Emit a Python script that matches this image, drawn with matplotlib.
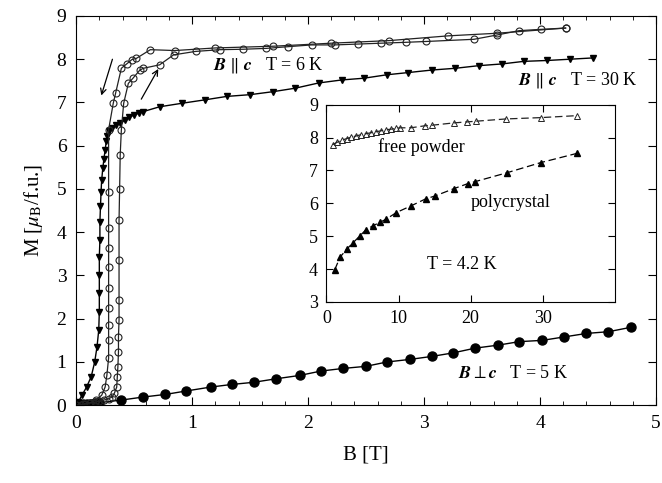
import numpy as np
import matplotlib.pyplot as plt

plt.rcParams['font.family'] = 'serif'
plt.rcParams['font.serif'] = ['Liberation Serif', 'DejaVu Serif']
plt.rcParams['mathtext.fontset'] = 'stix'

# B || c, T = 6 K, increasing field
up6_B = [0.00, 0.04, 0.08, 0.12, 0.16, 0.20, 0.24, 0.28, 0.31, 0.33, 0.35, 0.355, 0.36,
         0.365, 0.365, 0.37, 0.37, 0.37, 0.37, 0.375, 0.38, 0.39, 0.41, 0.45, 0.49, 0.55,
         0.58, 0.72, 0.84, 1.03, 1.24, 1.44, 1.64, 1.83, 2.03, 2.23, 2.43, 2.63, 2.84,
         3.02, 3.43, 3.63, 3.82, 4.01, 4.22]
up6_M = [0.00, 0.01, 0.03, 0.05, 0.07, 0.09, 0.12, 0.15, 0.19, 0.28, 0.42, 0.66, 0.89,
         1.23, 1.58, 1.97, 2.43, 3.36, 4.28, 5.01, 5.79, 6.37, 6.98, 7.44, 7.56, 7.75,
         7.79, 7.87, 8.10, 8.18, 8.22, 8.23, 8.25, 8.29, 8.33, 8.33, 8.35, 8.37, 8.39,
         8.41, 8.46, 8.56, 8.66, 8.69, 8.72]
# B || c, T = 6 K, decreasing field
dn6_B = [4.22, 3.63, 3.21, 2.70, 2.20, 1.70, 1.20, 0.85, 0.64, 0.52, 0.48, 0.44, 0.39,
         0.34, 0.32, 0.28, 0.28, 0.28, 0.28, 0.28, 0.28, 0.28, 0.28, 0.28, 0.28, 0.265,
         0.25, 0.22, 0.17, 0.12, 0.06, 0.00]
dn6_M = [8.72, 8.60, 8.54, 8.43, 8.37, 8.30, 8.26, 8.20, 8.22, 8.02, 7.99, 7.90, 7.79,
         7.21, 6.98, 6.37, 4.94, 4.09, 3.63, 3.20, 2.70, 2.24, 1.85, 1.50, 1.09, 0.69,
         0.42, 0.23, 0.12, 0.06, 0.02, 0.00]

# B || c, T = 30 K
c30_B = [0.00, 0.02, 0.05, 0.09, 0.13, 0.16, 0.18, 0.195, 0.20, 0.20, 0.20, 0.20, 0.205,
         0.205, 0.21, 0.215, 0.22, 0.23, 0.24, 0.25, 0.26, 0.27, 0.28, 0.31, 0.34, 0.38,
         0.42, 0.46, 0.50, 0.54, 0.58, 0.72, 0.91, 1.11, 1.30, 1.50, 1.70, 1.89, 2.09,
         2.29, 2.48, 2.68, 2.86, 3.07, 3.27, 3.47, 3.67, 3.86, 4.06, 4.26, 4.46]
c30_M = [0.00, 0.08, 0.23, 0.42, 0.66, 1.00, 1.35, 1.74, 2.16, 2.59, 3.00, 3.43, 3.82,
         4.24, 4.60, 4.94, 5.20, 5.48, 5.70, 5.90, 6.10, 6.22, 6.33, 6.42, 6.48, 6.52,
         6.60, 6.66, 6.71, 6.75, 6.79, 6.90, 6.98, 7.06, 7.14, 7.18, 7.25, 7.33, 7.45,
         7.52, 7.56, 7.64, 7.69, 7.75, 7.79, 7.85, 7.89, 7.95, 7.97, 8.00, 8.03]

# B perp c, T = 5 K
p5_B = [0.00, 0.03, 0.06, 0.09, 0.13, 0.16, 0.20, 0.39, 0.58, 0.77, 0.95, 1.16, 1.34,
        1.53, 1.72, 1.93, 2.11, 2.30, 2.50, 2.68, 2.88, 3.07, 3.25, 3.44, 3.64, 3.82,
        4.02, 4.21, 4.40, 4.59, 4.78]
p5_M = [0.00, 0.01, 0.02, 0.03, 0.04, 0.05, 0.06, 0.12, 0.19, 0.25, 0.33, 0.42, 0.48,
        0.53, 0.61, 0.69, 0.79, 0.85, 0.90, 1.00, 1.06, 1.13, 1.21, 1.32, 1.39, 1.47,
        1.50, 1.58, 1.66, 1.70, 1.80]

# inset, T = 4.2 K
free_B = [0.9, 1.5, 2.1, 2.8, 3.4, 4.1, 4.8, 5.5, 6.2, 6.9, 7.6, 8.3, 9.0, 9.7, 10.2,
          11.7, 13.6, 14.7, 17.7, 19.5, 20.7, 24.9, 29.7, 34.7]
free_M = [7.79, 7.86, 7.92, 7.97, 8.01, 8.05, 8.09, 8.12, 8.15, 8.18, 8.21, 8.24, 8.26,
          8.28, 8.30, 8.30, 8.36, 8.38, 8.45, 8.48, 8.50, 8.57, 8.61, 8.67]
poly_B = [1.16, 1.9, 2.8, 3.7, 4.6, 5.5, 6.4, 7.4, 8.3, 9.7, 11.7, 13.8, 15.0, 17.7,
          19.6, 20.6, 25.0, 29.7, 34.7]
poly_M = [3.98, 4.36, 4.60, 4.80, 5.00, 5.20, 5.31, 5.42, 5.52, 5.72, 5.92, 6.14, 6.22,
          6.45, 6.60, 6.66, 6.93, 7.24, 7.52]

fig = plt.figure(figsize=(6.62, 4.83), dpi=100)
ax = fig.add_axes([0.115, 0.161, 0.876, 0.806])

ax.plot(p5_B, p5_M, '-o', color='black', ms=6.5, lw=1.0)
ax.plot(c30_B, c30_M, '-v', color='black', ms=4.8, lw=1.0)
ax.plot(up6_B, up6_M, '-o', color='#222222', mfc='none', ms=5.0, mew=0.8, lw=0.9)
ax.plot(dn6_B, dn6_M, '-o', color='#222222', mfc='none', ms=5.0, mew=0.8, lw=0.9)

# sweep direction arrows
ax.annotate('', xy=(0.21, 7.1), xytext=(0.32, 8.06),
            arrowprops=dict(arrowstyle='->', color='black', lw=0.9))
ax.annotate('', xy=(0.72, 7.83), xytext=(0.55, 7.02),
            arrowprops=dict(arrowstyle='->', color='black', lw=0.9))

ax.text(1.18, 7.87, r'$\mathbfit{B}\ \|\ \mathbfit{c}$   T = 6 K', fontsize=13, va='center')
ax.text(3.81, 7.52, r'$\mathbfit{B}\ \|\ \mathbfit{c}$   T = 30 K', fontsize=13, va='center')
ax.text(3.29, 0.74, r'$\mathbfit{B}\perp\mathbfit{c}$   T = 5 K', fontsize=13, va='center')

ax.set_xlim(0, 5)
ax.set_ylim(0, 9)
ax.set_xticks(range(6))
ax.set_xticks(np.arange(0, 5.01, 0.2), minor=True)
ax.set_yticks(range(10))
ax.tick_params(direction='in', top=True, right=True, labelsize=14, length=6, pad=7)
ax.tick_params(which='minor', direction='in', top=True, length=3)
ax.set_xlabel('B [T]', fontsize=15, labelpad=10)
ax.set_ylabel(r'M [$\mu_{\mathrm{B}}$/f.u.]', fontsize=15, labelpad=8)

ins = fig.add_axes([0.493, 0.375, 0.436, 0.408])
ins.plot(free_B, free_M, '^', color='#222222', mfc='none', ms=4.2, mew=0.7,
         ls=(0, (6, 3)), lw=0.9)
ins.plot(poly_B, poly_M, '^', color='black', ms=4.2, ls=(0, (6, 3)), lw=0.9)
ins.text(7.1, 7.7, 'free powder', fontsize=13, va='center')
ins.text(20, 6.03, 'polycrystal', fontsize=13, va='center')
ins.text(14, 4.15, 'T = 4.2 K', fontsize=13, va='center')
ins.set_xlim(0, 40)
ins.set_ylim(3, 9)
ins.set_xticks([0, 10, 20, 30])
ins.set_yticks(range(3, 10))
ins.tick_params(direction='in', top=True, right=True, labelsize=13, length=5, pad=6)

fig.savefig('out.png', dpi=100)
